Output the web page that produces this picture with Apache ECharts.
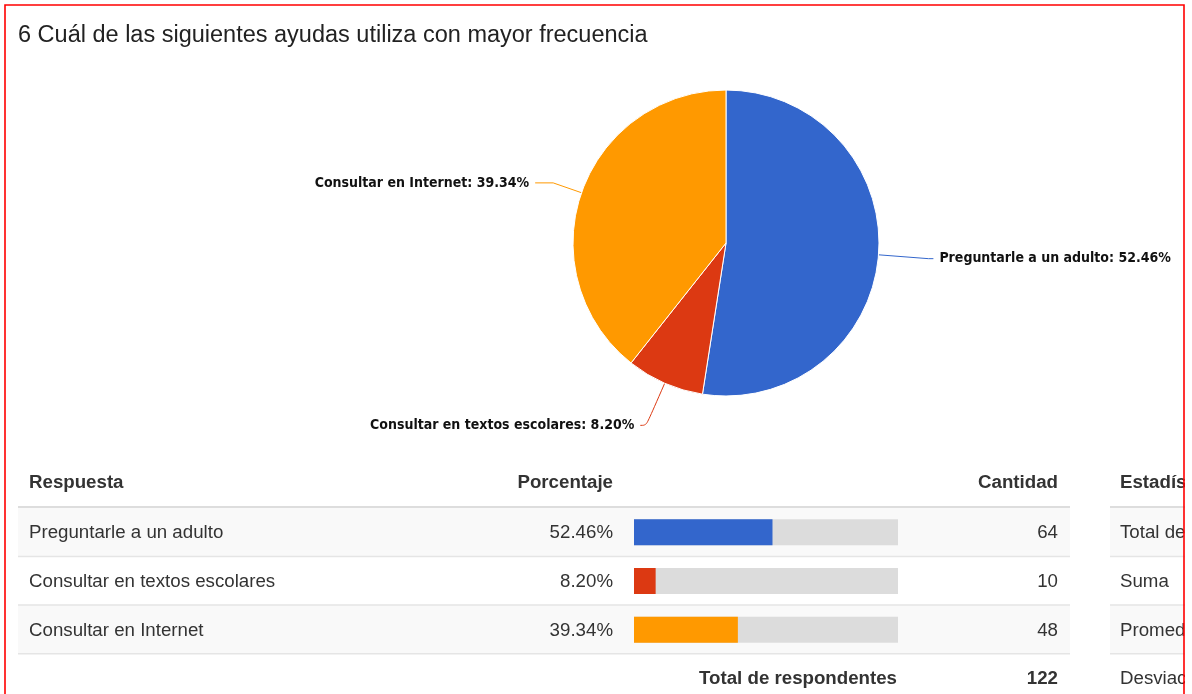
<!DOCTYPE html>
<html><head><meta charset="utf-8">
<script src="https://cdn.jsdelivr.net/npm/echarts@6/dist/echarts.min.js"></script>
<style>html,body{margin:0;padding:0;background:#fff}#c{width:1192px;height:694px}</style>
</head><body><div id="c"></div>
<script>
// ---- data ----
const titleText = '6 Cuál de las siguientes ayudas utiliza con mayor frecuencia';
const categories = ['Preguntarle a un adulto', 'Consultar en textos escolares', 'Consultar en Internet'];
const counts = [64, 10, 48];
const colors = ['#3366cc', '#dc3912', '#ff9900'];
const headers = ['Respuesta', 'Porcentaje', 'Cantidad'];
const totalLabel = 'Total de respondentes';
const statsHeader = 'Estadísticas';
const statsRows = ['Total de respondentes', 'Suma', 'Promedio', 'Desviación estándar'];

const total = counts.reduce((a, b) => a + b, 0);
const pct = v => (v / total * 100).toFixed(2) + '%';

// ---- layout ----
const FONT = '"Liberation Sans", Arial, sans-serif';
const TXT = '#333333';
const L = { x0: 18, x1: 1070, sx0: 1110, sx1: 1186, headY: 482, rowTop: 508, rowH: 48.67, fs: 18.7 };
const pctRight = 613, cntRight = 1058, barLeft = 634, barW = 264, textLeft = 29, statsText = 1120;

const g = [];
// row stripes
for (let i = 0; i < 4; i++) {
  const y = L.rowTop + i * L.rowH;
  if (i % 2 === 0 && i < 3) {
    g.push({ type: 'rect', z: -10, shape: { x: L.x0, y: y, width: L.x1 - L.x0, height: L.rowH }, style: { fill: '#f9f9f9' } });
  }
  if (i % 2 === 0) {
    g.push({ type: 'rect', z: -10, shape: { x: L.sx0, y: y, width: L.sx1 - L.sx0, height: L.rowH }, style: { fill: '#f9f9f9' } });
  }
}
// header lines
g.push({ type: 'rect', z: -5, shape: { x: L.x0, y: L.rowTop - 2, width: L.x1 - L.x0, height: 2 }, style: { fill: '#dddddd' } });
g.push({ type: 'rect', z: -5, shape: { x: L.sx0, y: L.rowTop - 2, width: L.sx1 - L.sx0, height: 2 }, style: { fill: '#dddddd' } });
// row separators
for (let i = 1; i <= 3; i++) {
  const y = L.rowTop + i * L.rowH - 1;
  g.push({ type: 'rect', z: -5, shape: { x: L.x0, y: y, width: L.x1 - L.x0, height: 1.5 }, style: { fill: '#e5e5e5' } });
  g.push({ type: 'rect', z: -5, shape: { x: L.sx0, y: y, width: L.sx1 - L.sx0, height: 1.5 }, style: { fill: '#e5e5e5' } });
}
function txt(s, x, y, align, bold) {
  g.push({ type: 'text', z: 5, x: x, y: y, style: { text: s, fill: TXT, font: (bold ? 'bold ' : '') + L.fs + 'px ' + FONT, textAlign: align, textVerticalAlign: 'middle' } });
}
// headers
txt(headers[0], textLeft, L.headY + 1, 'left', true);
txt(headers[1], pctRight, L.headY + 1, 'right', true);
txt(headers[2], cntRight, L.headY + 1, 'right', true);
txt(statsHeader, statsText, L.headY + 1, 'left', true);
// rows
categories.forEach((c, i) => {
  const cy = L.rowTop + (i + 0.5) * L.rowH + 1;
  txt(c, textLeft, cy, 'left', false);
  txt(pct(counts[i]), pctRight, cy, 'right', false);
  txt(String(counts[i]), cntRight, cy, 'right', false);
});
const totY = L.rowTop + 3.5 * L.rowH + 1;
txt(totalLabel, barLeft + barW - 1, totY, 'right', true);
txt(String(total), cntRight, totY, 'right', true);
statsRows.forEach((s, i) => txt(s, statsText, L.rowTop + (i + 0.5) * L.rowH + 1, 'left', false));
// title
g.push({ type: 'text', z: 5, x: 18, y: 36, style: { text: titleText, fill: '#222222', font: '23.5px ' + FONT, textVerticalAlign: 'middle' } });
// clip right side + red frame
g.push({ type: 'rect', z: 50, shape: { x: 1185, y: 0, width: 10, height: 694 }, style: { fill: '#ffffff' } });
g.push({ type: 'rect', z: 60, shape: { x: 5, y: 5, width: 1179, height: 800 }, style: { fill: 'none', stroke: '#ff0000', lineWidth: 1.6 } });

const labelLines = [
  { length: 50, length2: 5 },
  { length: 46, length2: 6, smooth: 0.4 },
  { length: 30, length2: 18 }
];

const chart = echarts.init(document.getElementById('c'));
chart.setOption({
  animation: false,
  graphic: { elements: g },
  grid: { left: barLeft, top: L.rowTop, width: barW, height: 3 * L.rowH },
  xAxis: { type: 'value', min: 0, max: total, show: false },
  yAxis: { type: 'category', inverse: true, data: categories, show: false },
  series: [
    {
      type: 'bar',
      data: counts.map((v, i) => ({ value: v, itemStyle: { color: colors[i] } })),
      barWidth: 26,
      showBackground: true,
      backgroundStyle: { color: '#dcdcdc' },
      z: 3
    },
    {
      type: 'pie',
      center: [726, 243],
      radius: 153,
      startAngle: 90,
      avoidLabelOverlap: false,
      itemStyle: { borderColor: '#ffffff', borderWidth: 1 },
      label: {
        show: true,
        color: '#111111',
        fontFamily: '"DejaVu Sans Condensed", "DejaVu Sans", sans-serif',
        fontWeight: 'bold',
        fontSize: 14,
        distanceToLabelLine: 6,
        formatter: p => p.name + ': ' + p.percent.toFixed(2) + '%'
      },
      labelLine: { lineStyle: { width: 1 } },
      data: categories.map((c, i) => ({ name: c, value: counts[i], itemStyle: { color: colors[i] }, labelLine: labelLines[i] }))
    }
  ]
});
</script></body></html>
